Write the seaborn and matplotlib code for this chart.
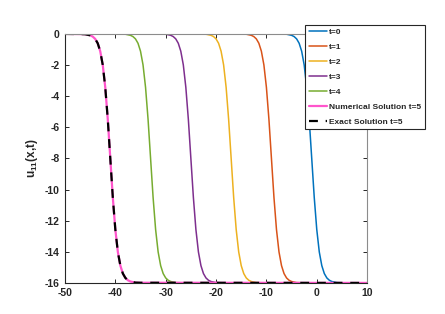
import numpy as np
import pandas as pd
import matplotlib
matplotlib.use("Agg")
import matplotlib.pyplot as plt
import seaborn as sns

# front profile: offset from the centre of the front -> u
profile_dx = [-6, -5, -4, -3.5, -3, -2.5, -2, -1.5, -1, -0.5, 0,
              0.5, 1, 1.5, 2, 2.5, 3, 3.5, 4, 5, 6]
profile_u = [-0.01, -0.02, -0.09, -0.17, -0.32, -0.60, -1.11, -1.99, -3.43, -5.49, -8.0,
             -10.51, -12.57, -14.01, -14.89, -15.40, -15.68, -15.83, -15.91, -15.98, -15.99]

# centre of each front (where u = -8)
centres = [-1, -9, -17, -25, -33, -41]
labels = ["t=0", "t=1", "t=2", "t=3", "t=4", "Numerical Solution t=5"]
colors = ["#0072BD", "#D95319", "#EDB120", "#7E2F8E", "#77AC30", "#FF55CC"]

x_min, x_max = -50, 10
u_left, u_right = 0, -16

sns.set_style("ticks")
plt.rcParams["font.family"] = ["Liberation Sans Narrow", "Liberation Sans", "DejaVu Sans"]
plt.rcParams["font.weight"] = "bold"
plt.rcParams["axes.unicode_minus"] = False
plt.rcParams["mathtext.fontset"] = "custom"
plt.rcParams["mathtext.rm"] = "Liberation Sans:bold"
plt.rcParams["mathtext.it"] = "Liberation Sans:bold"
plt.rcParams["mathtext.bf"] = "Liberation Sans:bold"

fig = plt.figure(figsize=(4.45, 3.14), dpi=100)
ax = fig.add_axes([0.146, 0.099, 0.679, 0.793])


def curve(c):
    xs = [x_min] + [c + d for d in profile_dx] + [x_max]
    us = [u_left] + profile_u + [u_right]
    return xs, us


for c, lab, col in zip(centres, labels, colors):
    xs, us = curve(c)
    lw = 1.6 if lab.startswith("Numerical") else 1.1
    sns.lineplot(x=xs, y=us, color=col, linewidth=lw, label=lab, ax=ax, sort=False)

xs, us = curve(centres[-1])
sns.lineplot(x=xs, y=us, color="black", linewidth=1.6, linestyle=(0, (4, 3.5)),
             label="Exact Solution t=5", ax=ax, sort=False)

ax.set_xlim(x_min, x_max)
ax.set_ylim(-16, 0)
ax.set_xticks(range(-50, 11, 10))
ax.set_yticks(range(-16, 1, 2))
ax.tick_params(direction="in", top=True, right=True, length=3, width=0.7,
               labelsize=7.5, pad=4)
for lbl in ax.get_xticklabels() + ax.get_yticklabels():
    lbl.set_fontweight("bold")
ax.set_ylabel(r"u$_{\mathrm{11}}$(x,t)", fontsize=8.5, fontweight="bold", labelpad=3)
ax.set_xlabel("")

for side in ["left", "bottom"]:
    ax.spines[side].set_color("#262626")
    ax.spines[side].set_linewidth(0.8)
for side in ["top", "right"]:
    ax.spines[side].set_visible(True)
    ax.spines[side].set_color("#8c8c8c")
    ax.spines[side].set_linewidth(0.8)

leg = ax.legend(loc="upper right", bbox_to_anchor=(1.19, 1.036), fontsize=6,
                frameon=True, fancybox=False, framealpha=1, edgecolor="#262626",
                handlelength=2.2, handletextpad=0.25, labelspacing=0.85,
                borderpad=0.4, borderaxespad=0)
leg.get_frame().set_linewidth(0.8)
for t in leg.get_texts():
    t.set_fontweight("bold")

fig.savefig("out.png", dpi=100)
